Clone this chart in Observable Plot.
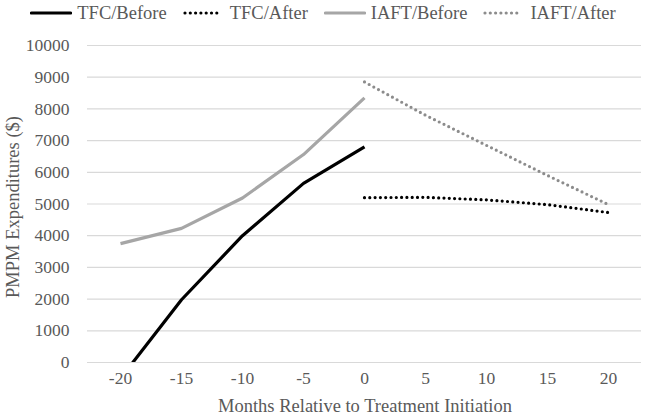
<!DOCTYPE html>
<html><head><meta charset="utf-8">
<script src="https://cdn.jsdelivr.net/npm/d3@7"></script>
<script src="https://cdn.jsdelivr.net/npm/@observablehq/plot@0.6"></script>
<style>
html,body{margin:0;padding:0;background:#fff;}
body{width:646px;height:419px;overflow:hidden;font-family:"Liberation Serif","Times New Roman",serif;}
#legend{height:26px;display:flex;justify-content:center;align-items:center;font-size:18.5px;color:#595959;gap:16px;}
.item{display:flex;align-items:center;}
.item svg{margin-right:5px;}
</style>
</head><body>
<div id="legend"></div>
<div id="chart"></div>
<script>
const months = [-20, -15, -10, -5, 0, 5, 10, 15, 20];
const beforeMonths = [-20, -15, -10, -5, 0];
const afterMonths = [0, 5, 10, 15, 20];
const tfcBefore = [-500, 1980, 4000, 5650, 6800];
const tfcAfter = [5200, 5210, 5130, 4980, 4730];
const iaftBefore = [3750, 4230, 5190, 6560, 8350];
const iaftAfter = [8850, 7800, 6850, 5900, 4980];
const yTicks = [0, 1000, 2000, 3000, 4000, 5000, 6000, 7000, 8000, 9000, 10000];

const seriesNames = ["TFC/Before", "TFC/After", "IAFT/Before", "IAFT/After"];
const seriesStyle = {
  "TFC/Before": {stroke: "#000000", dash: null},
  "TFC/After": {stroke: "#000000", dash: "0 5.3"},
  "IAFT/Before": {stroke: "#a6a6a6", dash: null},
  "IAFT/After": {stroke: "#8c8c8c", dash: "0 5.3"}
};

const rows = (xs, vs, name) => xs.map((m, i) => ({month: m, value: vs[i], series: name}));
const dTfcBefore = rows(beforeMonths, tfcBefore, "TFC/Before");
const dTfcAfter = rows(afterMonths, tfcAfter, "TFC/After");
const dIaftBefore = rows(beforeMonths, iaftBefore, "IAFT/Before");
const dIaftAfter = rows(afterMonths, iaftAfter, "IAFT/After");

// legend
const legend = d3.select("#legend");
seriesNames.forEach(name => {
  const st = seriesStyle[name];
  const it = legend.append("div").attr("class", "item");
  const s = it.append("svg").attr("width", 42).attr("height", 10);
  s.append("line").attr("x1", st.dash ? 2 : 1.5).attr("x2", st.dash ? 34 : 40.5).attr("y1", 5).attr("y2", 5)
    .attr("stroke", st.stroke).attr("stroke-width", 3.2)
    .attr("stroke-linecap", "round")
    .attr("stroke-dasharray", st.dash);
  it.append("span").text(name);
});

const lineOpts = (name) => ({
  x: "month", y: "value", stroke: seriesStyle[name].stroke, strokeWidth: 3.2,
  strokeDasharray: seriesStyle[name].dash || undefined,
  strokeLinecap: seriesStyle[name].dash ? "round" : "butt",
  strokeLinejoin: "round", clip: true
});

const serif = "Liberation Serif";
const chart = Plot.plot({
  width: 646, height: 393,
  marginLeft: 87, marginRight: 5, marginTop: 19, marginBottom: 57,
  style: {fontFamily: serif, fontSize: "17px", color: "#595959", background: "#fff"},
  x: {type: "point", domain: months, padding: 0.5, axis: null},
  y: {domain: [0, 10000], axis: null},
  marks: [
    Plot.ruleY(yTicks, {stroke: "#d9d9d9", strokeWidth: 1.2}),
    Plot.text(yTicks, {y: d => d, text: d => String(d), frameAnchor: "left", textAnchor: "end", dx: -18, fontFamily: serif, fontSize: 17.5, fill: "#595959"}),
    Plot.text(months, {x: d => d, text: d => String(d), frameAnchor: "bottom", dy: 21, fontFamily: serif, fontSize: 17.5, fill: "#595959"}),
    Plot.line(dIaftBefore, lineOpts("IAFT/Before")),
    Plot.line(dIaftAfter, lineOpts("IAFT/After")),
    Plot.line(dTfcBefore, lineOpts("TFC/Before")),
    Plot.line(dTfcAfter, lineOpts("TFC/After"))
  ]
});
document.getElementById("chart").appendChild(chart);

const svg = d3.select(chart);
svg.append("text").attr("x", 365).attr("y", 386)
  .attr("text-anchor", "middle").attr("fill", "#595959")
  .style("font-size", "18.5px").style("font-family", serif).text("Months Relative to Treatment Initiation");
svg.append("text").attr("transform", "translate(19," + (207 - 26) + ") rotate(-90)")
  .attr("text-anchor", "middle").attr("fill", "#595959")
  .style("font-size", "18.5px").style("font-family", serif).text("PMPM Expenditures ($)");
</script>
</body></html>
